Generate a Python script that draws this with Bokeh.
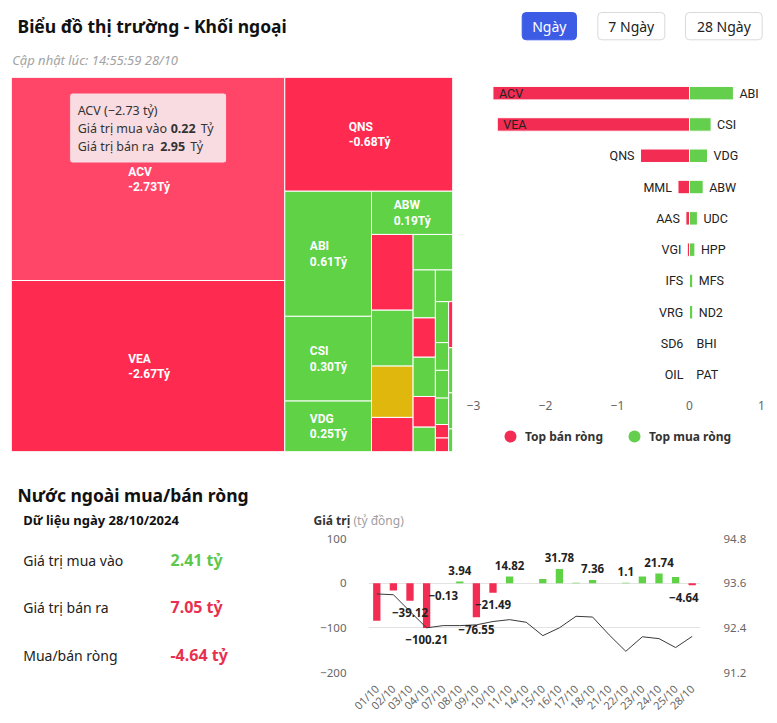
import math
from bokeh.plotting import figure
from bokeh.models import (Range1d, FactorRange, LinearAxis, FixedTicker, Label,
                          BoxAnnotation, Legend, LegendItem)
from bokeh.layouts import column, row
from bokeh.embed import file_html
from bokeh.resources import INLINE
from bokeh.core.properties import value

# ---------------- data ----------------
title_text = "Biểu đồ thị trường - Khối ngoại"
update_time = "14:55:59 28/10"
periods = ["Ngày", "7 Ngày", "28 Ngày"]
active_period = "Ngày"

# treemap: size = buy + sell value (tỷ), colour = net value
tm_codes = ["ACV", "VEA", "QNS", "ABI", "CSI", "VDG", "ABW", "MML", "UDC", "",
            "AAS", "HPP", "MFS", "VGI", "ND2", "IFS", "BHI", "PAT", "", "",
            "", "", "VRG", "SD6", "OIL", "", "", ""]
tm_total = [3.17, 2.67, 1.09, 0.62, 0.42, 0.25, 0.20, 0.18, 0.133, 0.122,
            0.081, 0.080, 0.061, 0.050, 0.050, 0.039, 0.031, 0.031, 0.031, 0.021,
            0.021, 0.020, 0.0102, 0.0102, 0.0102, 0.010, 0.008, 0.005]
tm_net = [-2.73, -2.67, -0.68, 0.61, 0.30, 0.25, 0.19, -0.16, 0.11, 0.0,
          -0.05, 0.075, 0.045, -0.03, 0.045, -0.004, 0.015, 0.012, 0.01, 0.008,
          0.007, 0.006, -0.003, -0.002, -0.001, 0.005, 0.004, 0.003]
hover_code = "ACV"
hover_buy = 0.22
hover_sell = 2.95

sell_codes = ["ACV", "VEA", "QNS", "MML", "AAS", "VGI", "IFS", "VRG", "SD6", "OIL"]
sell_net = [-2.73, -2.67, -0.68, -0.16, -0.05, -0.03, -0.004, -0.003, -0.002, -0.001]
buy_codes = ["ABI", "CSI", "VDG", "ABW", "UDC", "HPP", "MFS", "ND2", "BHI", "PAT"]
buy_net = [0.61, 0.30, 0.25, 0.19, 0.11, 0.075, 0.045, 0.045, 0.015, 0.012]
bar_ticks = [-3, -2, -1, 0, 1]

section_title = "Nước ngoài mua/bán ròng"
data_date = "28/10/2024"
total_buy = 2.41
total_sell = 7.05

dates = ["01/10", "02/10", "03/10", "04/10", "07/10", "08/10", "09/10", "10/10",
         "11/10", "14/10", "15/10", "16/10", "17/10", "18/10", "21/10", "22/10",
         "23/10", "24/10", "25/10", "28/10"]
net_flow = [-84.0, -16.4, -39.12, -100.21, -0.13, 3.94, -76.55, -21.49,
            14.82, 0.0, 9.5, 31.78, 0.8, 7.36, 0.0, 1.1,
            15.0, 21.74, 14.0, -4.64]
show_label = [0, 0, 1, 1, 1, 1, 1, 1, 1, 0, 0, 1, 0, 1, 0, 1, 0, 1, 0, 1]
index_line = [93.31, 93.29, 92.84, 92.40, 92.46, 92.46, 92.48, 92.57,
              92.62, 92.55, 92.19, 92.40, 92.71, 92.69, 92.21, 91.77,
              92.16, 92.11, 91.87, 92.17]
left_ticks = [-200, -100, 0, 100]
right_ticks = [91.2, 92.4, 93.6, 94.8]

# ---------------- styles ----------------
RED = "#fe2a50"
RED_HOVER = "#ff4668"
GREEN = "#5fd246"
YELLOW = "#e0b70c"
BAR_RED = "#f22c52"
BAR_GREEN = "#63cf4d"
BLUE = "#3c5ce6"
TXT_GREEN = "#5cc84b"
TXT_RED = "#e8304f"
FONT = "Noto Sans"
TM_FONT = "Roboto"
NAME_FONT = "Roboto"
PAGE_W = 777


def minus(s):
    return s.replace("-", "\u2212")


def blank(w, h, xr, yr, top=0, bottom=0, left=0, right=0):
    p = figure(width=w, height=h, x_range=xr, y_range=yr, output_backend="svg",
               toolbar_location=None, x_axis_location=None, y_axis_location=None,
               min_border_top=top, min_border_bottom=bottom, min_border_left=left,
               min_border_right=right, outline_line_color=None)
    p.grid.visible = False
    return p


# ---------------- header (page y 0..74) ----------------
hdr = blank(PAGE_W, 74, Range1d(0, PAGE_W), Range1d(74, 0))
hdr.add_layout(Label(x=17, y=25.5, text=title_text, text_font=FONT, text_font_style="bold",
                     text_font_size="17.5px", text_color="#111111", text_baseline="middle"))
hdr.add_layout(Label(x=11.7, y=59, text="Cập nhật lúc: " + update_time, text_font=FONT,
                     text_font_style="italic", text_font_size="13px", text_color="#a3a3a3",
                     text_baseline="middle"))
btn_left = [521.7, 597.3, 685.0]
btn_right = [576.0, 664.3, 761.7]
for lab, l, r in zip(periods, btn_left, btn_right):
    act = lab == active_period
    hdr.add_layout(BoxAnnotation(left=l, right=r, top=12, bottom=39.3,
                                 fill_color=BLUE if act else "white", fill_alpha=1,
                                 line_color=BLUE if act else "#d9d9d9", line_alpha=1,
                                 line_width=1, border_radius=4))
    hdr.add_layout(Label(x=(l + r) / 2, y=25.8, text=lab, text_align="center",
                         text_baseline="middle", text_font=FONT, text_font_size="14px",
                         text_color="white" if act else "#222222"))


# ---------------- treemap (Highcharts squarified) ----------------
def hc_squarified(px, py, pw, ph, vals):
    tot = float(sum(vals))
    areas = [pw * ph * v / tot for v in vals]
    nan = float("nan")
    g = {"w": pw, "h": ph, "d": 0, "total": 0.0, "nW": 0.0, "lW": 0.0,
         "nH": 0.0, "lH": 0.0, "el": [], "lR": nan, "nR": nan}
    plot = {"x": px, "y": py}
    out = []

    def ar(a, b):
        return max(a / b, b / a)

    def add(el):
        last = g["el"][-1] if g["el"] else None
        g["total"] += el
        if g["d"] == 0:
            g["lW"] = g["nW"]
            g["nW"] = g["total"] / g["h"]
            if last is None:
                g["lR"] = g["nR"] = nan
            else:
                g["lR"] = ar(g["lW"], last / g["lW"])
                g["nR"] = ar(g["nW"], last / g["nW"])
        else:
            g["lH"] = g["nH"]
            g["nH"] = g["total"] / g["w"]
            if last is None:
                g["lR"] = g["nR"] = nan
            else:
                g["lR"] = ar(last / g["lH"], g["lH"])
                g["nR"] = ar(last / g["nH"], g["nH"])
        g["el"].append(el)

    def calc(last):
        if last:
            gW, gH, keep = g["nW"], g["nH"], None
        else:
            gW, gH, keep = g["lW"], g["lH"], g["el"][-1]
        els = g["el"]
        end = len(els) - 1
        for i, p in enumerate(els):
            if last or i < end:
                if g["d"] == 0:
                    out.append((plot["x"], plot["y"], gW, p / gW))
                    plot["y"] += p / gW
                else:
                    out.append((plot["x"], plot["y"], p / gH, gH))
                    plot["x"] += p / gH
        g["nW"] = 0.0
        g["lW"] = 0.0
        g["el"] = []
        g["total"] = 0.0
        if g["d"] == 0:
            g["w"] -= gW
        else:
            g["h"] -= gH
        plot["y"] = py + (ph - g["h"])
        plot["x"] = px + (pw - g["w"])
        g["d"] = 1 - g["d"]
        if not last:
            add(keep)

    for i, a in enumerate(areas):
        add(a)
        if g["nR"] > g["lR"]:
            calc(False)
        if i == len(areas) - 1:
            calc(True)
    return out


# row 1: page y 74..481 ; frames page y 77..451
ROW1_H = 407
TM_W, TM_H = 441, 374
cells = hc_squarified(0, 0, TM_W, TM_H, tm_total)
tm = blank(460, ROW1_H, Range1d(0, TM_W), Range1d(TM_H, 0), top=3, bottom=ROW1_H - 3 - TM_H,
           left=11, right=8)
cx0 = [c[0] for c in cells]
cy0 = [c[1] for c in cells]
cx1 = [c[0] + c[2] for c in cells]
cy1 = [c[1] + c[3] for c in cells]
cols = []
for code, v in zip(tm_codes, tm_net):
    if v < 0:
        cols.append(RED_HOVER if code == hover_code else RED)
    elif v > 0:
        cols.append(GREEN)
    else:
        cols.append(YELLOW)
tm.quad(left=cx0, right=cx1, top=cy0, bottom=cy1, fill_color=cols,
        line_color="white", line_width=1)

CW = {"-": 0.276, ".": 0.263, "T": 0.6, "ỷ": 0.5}


def est_w(s, size):
    return sum(CW.get(ch, 0.562) for ch in s) * size


lx, ly, lname, lval, loff = [], [], [], [], []
for code, v, c in zip(tm_codes, tm_net, cells):
    if c[2] >= 60 and c[3] >= 35:
        vt = f"{v:.2f}Tỷ"
        lx.append(c[0] + c[2] / 2)
        ly.append(c[1] + c[3] / 2)
        lname.append(code)
        lval.append(vt)
        loff.append(-est_w(vt, 12) / 2)
tm.text(x=lx, y=ly, text=lname, x_offset=loff, y_offset=-7.5, text_align="left",
        text_baseline="middle", text_font=value(TM_FONT), text_font_style="bold",
        text_font_size="12px", text_color="white")
tm.text(x=lx, y=ly, text=lval, x_offset=loff, y_offset=8, text_align="left",
        text_baseline="middle", text_font=value(TM_FONT), text_font_style="bold",
        text_font_size="12px", text_color="white")

# tooltip over hovered cell
hi = tm_codes.index(hover_code)
hx, hy, hw, hh = cells[hi]
hcx, hcy = hx + hw / 2, hy + hh / 2
bw, bh = 157, 70
bl = hcx - bw / 2
bb = hcy - 16
bt = bb - bh
tm.add_layout(BoxAnnotation(left=bl, right=bl + bw, top=bt, bottom=bb, fill_color="#f7f7f7",
                            fill_alpha=0.85, line_color=RED_HOVER, line_alpha=1, line_width=1,
                            border_radius=3))
hover_net = hover_buy - hover_sell
tip_font = dict(text_font=FONT, text_font_size="12.5px", text_color="#333333",
                text_baseline="middle")
tm.add_layout(Label(x=bl + 8, y=bt + 17, text=f"{hover_code} ({minus(f'{hover_net:.2f}')} tỷ)",
                    **tip_font))
tm.add_layout(Label(x=bl + 8, y=bt + 35, text="Giá trị mua vào", **tip_font))
tm.add_layout(Label(x=bl + 101, y=bt + 35, text=f"{hover_buy:.2f}",
                    text_font_style="bold", **tip_font))
tm.add_layout(Label(x=bl + 131, y=bt + 35, text="Tỷ", **tip_font))
tm.add_layout(Label(x=bl + 8, y=bt + 53.5, text="Giá trị bán ra", **tip_font))
tm.add_layout(Label(x=bl + 90.5, y=bt + 53.5, text=f"{hover_sell:.2f}", text_font_style="bold",
                    **tip_font))
tm.add_layout(Label(x=bl + 120.5, y=bt + 53.5, text="Tỷ", **tip_font))

# ---------------- top buy / sell bars ----------------
n = len(sell_codes)
ridx = list(range(n))
ROW_PX = 31.3
BAR_PX = 72.0          # px per tỷ on the bar axis
BC_LEFT, BC_RIGHT = 13, 16   # space outside the [-3, 1] span
bc = figure(width=PAGE_W - 460, height=ROW1_H,
            x_range=Range1d(bar_ticks[0] - BC_LEFT / BAR_PX, bar_ticks[-1] + BC_RIGHT / BAR_PX),
            y_range=Range1d(-0.5 + TM_H / ROW_PX, -0.5), output_backend="svg",
            toolbar_location=None, y_axis_location=None, min_border_left=0,
            min_border_right=0, min_border_top=3, min_border_bottom=ROW1_H - 3 - TM_H,
            outline_line_color=None)
bc.grid.visible = False
bc.hbar(y=ridx, left=sell_net, right=0, height=0.43, fill_color=BAR_RED,
        line_color="white", line_width=1)
bc.hbar(y=ridx, left=0, right=buy_net, height=0.43, fill_color=BAR_GREEN,
        line_color="white", line_width=1)
xmin = bar_ticks[0]
inside = [v - 0.5 < xmin for v in sell_net]
o_i = [i for i in ridx if not inside[i]]
i_i = [i for i in ridx if inside[i]]
name_style = dict(text_baseline="middle", text_font=value(NAME_FONT), text_font_size="12.5px",
                  text_color="#222222")
bc.text(x=[sell_net[i] for i in o_i], y=o_i, text=[sell_codes[i] for i in o_i],
        x_offset=-6, text_align="right", **name_style)
bc.text(x=[sell_net[i] for i in i_i], y=i_i, text=[sell_codes[i] for i in i_i],
        x_offset=6, text_align="left", **name_style)
bc.text(x=buy_net, y=ridx, text=buy_codes, x_offset=6, text_align="left", **name_style)
bc.xaxis.fixed_location = n - 0.5
bc.xaxis.ticker = FixedTicker(ticks=bar_ticks)
bc.xaxis.major_label_overrides = {t: minus(str(t)) for t in bar_ticks}
bc.xaxis.axis_line_color = None
bc.xaxis.major_tick_line_color = None
bc.xaxis.minor_tick_line_color = None
bc.xaxis.major_label_standoff = 4
bc.xaxis.major_label_text_font = FONT
bc.xaxis.major_label_text_font_size = "12px"
bc.xaxis.major_label_text_color = "#666666"
r_sell = bc.scatter(x=sell_net, y=ridx, marker="circle", size=12, fill_color=BAR_RED,
                    line_color=None, visible=False)
r_buy = bc.scatter(x=buy_net, y=ridx, marker="circle", size=12, fill_color=BAR_GREEN,
                   line_color=None, visible=False)
leg = Legend(items=[LegendItem(label="Top bán ròng", renderers=[r_sell]),
                    LegendItem(label="Top mua ròng", renderers=[r_buy])],
             orientation="horizontal", location=(35, 0), glyph_width=30, glyph_height=30,
             label_standoff=0, spacing=16, padding=0, margin=0, border_line_color=None,
             background_fill_alpha=0, inactive_fill_alpha=0,
             label_text_font=FONT, label_text_font_style="bold",
             label_text_font_size="12px", label_text_color="#333333", label_height=30)
bc.add_layout(leg)

# ---------------- strip with section titles (page y 481..529) ----------------
strip = blank(PAGE_W, 48, Range1d(0, PAGE_W), Range1d(529, 481))
strip.add_layout(Label(x=17, y=494.5, text=section_title, text_font=FONT, text_font_style="bold",
                       text_font_size="17.5px", text_color="#111111", text_baseline="middle"))
strip.add_layout(Label(x=22.7, y=519.5, text="Dữ liệu ngày " + data_date, text_font=FONT,
                       text_font_style="bold", text_font_size="13px", text_color="#111111",
                       text_baseline="middle"))
strip.add_layout(Label(x=313, y=520.3, text="Giá trị", text_font=FONT, text_font_style="bold",
                       text_font_size="12px", text_color="#333333", text_baseline="middle"))
strip.add_layout(Label(x=353, y=520.3, text="(tỷ đồng)", text_font=FONT,
                       text_font_size="12px", text_color="#a0a0a0", text_baseline="middle"))

# ---------------- row 2: page y 529..723, frames page y 538..672 ----------------
ROW2_H = 194
R2_TOP = 9
info = blank(300, ROW2_H, Range1d(0, 300), Range1d(672, 538), top=R2_TOP, bottom=51)
net_total = total_buy - total_sell
summary = [("Giá trị mua vào", total_buy, TXT_GREEN, 560),
           ("Giá trị bán ra", total_sell, TXT_RED, 606.5),
           ("Mua/bán ròng", net_total, TXT_GREEN if net_total >= 0 else TXT_RED, 655)]
for lab, v, colr, yy in summary:
    info.add_layout(Label(x=22.7, y=yy, text=lab, text_font=FONT, text_font_size="14px",
                          text_color="#222222", text_baseline="middle"))
    info.add_layout(Label(x=170, y=yy - 0.5, text=f"{v:.2f} tỷ", text_font=FONT,
                          text_font_style="bold", text_font_size="16px", text_color=colr,
                          text_baseline="middle"))

FRAME_W = 332
bot = figure(width=PAGE_W - 300, height=ROW2_H,
             x_range=FactorRange(factors=dates, range_padding=0),
             y_range=Range1d(left_ticks[0], left_ticks[-1]), output_backend="svg",
             toolbar_location=None, min_border_left=68, min_border_right=PAGE_W - 300 - 68 - FRAME_W,
             min_border_top=R2_TOP, min_border_bottom=51, outline_line_color=None)
bot.extra_y_ranges = {"idx": Range1d(right_ticks[0], right_ticks[-1])}
bot.add_layout(LinearAxis(y_range_name="idx", ticker=FixedTicker(ticks=right_ticks)), "right")
bot.yaxis[0].ticker = FixedTicker(ticks=left_ticks)
bot.yaxis[0].major_label_overrides = {t: minus(str(t)) for t in left_ticks}
bot.yaxis[0].major_label_standoff = 16
bot.yaxis[1].major_label_standoff = 17
for ax in bot.axis:
    ax.axis_line_color = None
    ax.major_tick_line_color = None
    ax.minor_tick_line_color = None
    ax.major_label_text_font = FONT
    ax.major_label_text_font_size = "11.5px"
    ax.major_label_text_color = "#666666"
bot.xaxis.major_label_orientation = math.pi / 4
bot.xaxis.major_label_standoff = 8
bot.xaxis.major_label_text_font_size = "11px"
bot.xgrid.visible = False
bot.ygrid.ticker = FixedTicker(ticks=left_ticks)
bot.ygrid.grid_line_color = "#e3e3e3"
bar_cols = [BAR_RED if v < 0 else GREEN for v in net_flow]
bot.vbar(x=dates, top=net_flow, bottom=0, width=0.44, fill_color=bar_cols, line_color=None)
bot.line(x=dates, y=index_line, y_range_name="idx", line_color="#3a3a3a", line_width=1)

LW = {"\u2212": 0.572, ".": 0.27}
cat_w = FRAME_W / len(dates)
lab_x, lab_y, lab_t, lab_off, lab_xo = [], [], [], [], []
for i, (d, v, s) in enumerate(zip(dates, net_flow, show_label)):
    if not s:
        continue
    t = minus(f"{v:g}")
    half = sum(LW.get(ch, 0.572) for ch in t) * 11.5 / 2
    c = (i + 0.5) * cat_w
    xo = min(0.0, FRAME_W - 2 - (c + half)) + max(0.0, half + 2 - c)
    lab_x.append(d)
    lab_y.append(v)
    lab_t.append(t)
    lab_off.append(12 if v < 0 else -11)
    lab_xo.append(xo)
bot.text(x=lab_x, y=lab_y, text=lab_t, y_offset=lab_off, x_offset=lab_xo, text_align="center",
         text_baseline="middle", text_font=value(FONT), text_font_style="bold",
         text_font_size="11.5px", text_color="#222222")

page = column(hdr, row(tm, bc), strip, row(info, bot))
open("out.html", "w").write(file_html(page, INLINE))
